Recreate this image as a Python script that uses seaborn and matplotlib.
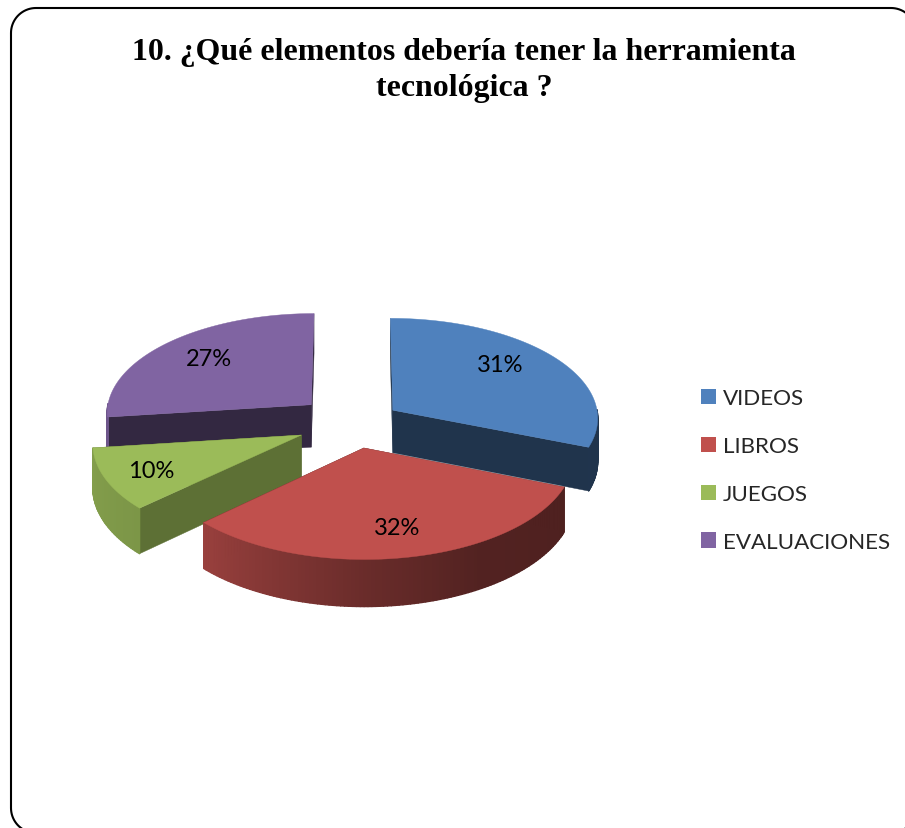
import numpy as np
import matplotlib
matplotlib.use("Agg")
import matplotlib.pyplot as plt
import seaborn as sns
from matplotlib.collections import PolyCollection
from matplotlib.patches import Patch

categories = ["VIDEOS", "LIBROS", "JUEGOS", "EVALUACIONES"]
values = [31, 32, 10, 27]
title = "10. ¿Qué elementos debería tener la herramienta\ntecnológica ?"
colors = ["#4F81BD", "#C0504D", "#9BBB59", "#8064A2"]
explode = [0.23, 0.25, 0.28, 0.28]
cut_shade = [0.4, 0.4, 0.6, 0.4]
draw_order = [3, 0, 2, 1]
label_nudge = [(-10, -7), (3, 2), (-11, 4), (3, -1)]

sns.set_theme(style="white")
plt.rcParams['font.family'] = ['Lato', 'DejaVu Sans']
palette = sns.color_palette(colors)

# pixel placement of the pie and its fake perspective
cx, cy = 354, 424
rx, ry = 206, 100
persp = 0.07
depth = 43


def project(u, v, drop=0.0):
    u = np.asarray(u, dtype=float)
    v = np.asarray(v, dtype=float)
    w = 1 + persp * v
    return cx + rx * u / w, cy - ry * v / w + drop * depth / w


def rim_shade(clock):
    return np.interp(clock, [100, 150, 180, 227, 263], [0.4, 0.43, 0.55, 0.8, 0.85])


fig = plt.figure(figsize=(9.05, 8.29), dpi=100)
ax = fig.add_axes([0, 0, 1, 1])

wedges, texts, autotexts = ax.pie(values, explode=explode, colors=palette, startangle=90,
                                  counterclock=False, autopct="%d%%", pctdistance=0.72,
                                  textprops={"fontsize": 17, "color": "black"})
ax.set_aspect("auto")
ax.set_xlim(0, 905)
ax.set_ylim(829, 0)
ax.axis("off")

for i in draw_order:
    w = wedges[i]
    w.set_visible(False)
    x0, y0 = w.center
    base = np.array(palette[i])
    ang = np.radians(np.linspace(w.theta1, w.theta2, int(w.theta2 - w.theta1) + 2))
    u = x0 + np.cos(ang)
    v = y0 + np.sin(ang)
    z = 2 + draw_order.index(i)

    # the two cut faces
    for k in [0, -1]:
        xs = [x0, u[k], u[k], x0]
        ys = [y0, v[k], v[k], y0]
        px, py = project(xs, ys, np.array([0, 0, 1, 1]))
        ax.fill(px, py, color=base * cut_shade[i], lw=0.3, zorder=z)

    # outer rim, only the part that faces the viewer
    quads = []
    shades = []
    for j in range(len(ang) - 1):
        if np.sin(ang[j]) < 0 or np.sin(ang[j + 1]) < 0:
            tx, ty = project(u[j:j + 2], v[j:j + 2])
            bx, by = project(u[j:j + 2], v[j:j + 2], 1.0)
            quads.append(np.column_stack([np.r_[tx, bx[::-1]], np.r_[ty, by[::-1]]]))
            clock = (90 - np.degrees(ang[j])) % 360
            shades.append(base * rim_shade(clock))
    if quads:
        ax.add_collection(PolyCollection(quads, facecolors=shades, edgecolors=shades,
                                         linewidths=1.0, zorder=z), autolim=False)

    # top face
    px, py = project(np.r_[x0, u], np.r_[y0, v])
    ax.fill(px, py, color=base, lw=0.3, zorder=z)

for at, (dx, dy) in zip(autotexts, label_nudge):
    px, py = project(*at.get_position())
    at.set_position((float(px) + dx, float(py) + dy))
    at.set_zorder(10)

ax.text(464, 70.5, title, family="Liberation Serif", fontweight="bold", fontsize=22.95,
        ha="center", va="center", linespacing=1.31, color="black")

handles = [Patch(facecolor=c, edgecolor="none", label=n) for c, n in zip(palette, categories)]
ax.legend(handles=handles, loc="center left", bbox_to_anchor=(701 / 905, 1 - 471 / 829),
          frameon=False, fontsize=16.1, handlelength=0.67, handleheight=0.67,
          handletextpad=0.31, labelspacing=1.25, borderpad=0, borderaxespad=0)

# rounded page frame, runs off the right and bottom of the picture
left, top, right, bottom, rad = 11, 9, 916, 834, 25
arc = np.radians(np.linspace(0, 90, 20))
fx = np.r_[left + rad - rad * np.cos(arc), right - rad + rad * np.sin(arc),
           right - rad + rad * np.cos(arc), left + rad - rad * np.sin(arc), left]
fy = np.r_[top + rad - rad * np.sin(arc), top + rad - rad * np.cos(arc),
           bottom - rad + rad * np.sin(arc), bottom - rad + rad * np.cos(arc), top + rad]
ax.plot(fx, fy, color="black", lw=1.5, zorder=1)

fig.savefig("out.png", dpi=100)
